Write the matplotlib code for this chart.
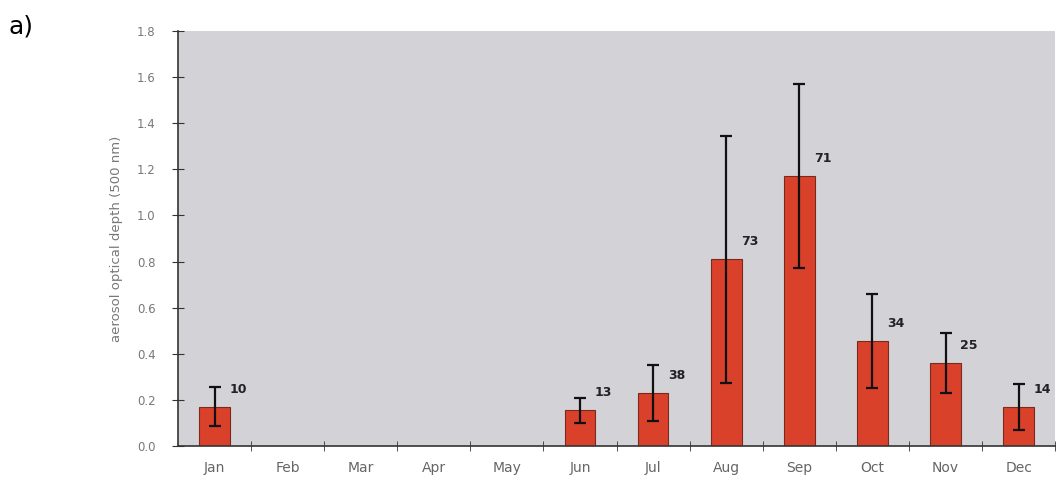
import matplotlib.pyplot as plt
import numpy as np

months = ['Jan', 'Feb', 'Mar', 'Apr', 'May', 'Jun',
          'Jul', 'Aug', 'Sep', 'Oct', 'Nov', 'Dec']
aod_mean = [0.17, np.nan, np.nan, np.nan, np.nan, 0.155,
            0.23, 0.81, 1.17, 0.455, 0.36, 0.17]
aod_std = [0.085, np.nan, np.nan, np.nan, np.nan, 0.055,
           0.12, 0.535, 0.40, 0.205, 0.13, 0.10]
n_obs = [10, None, None, None, None, 13, 38, 73, 71, 34, 25, 14]


def make_plot():
    fig = plt.figure(figsize=(10.62, 4.9), dpi=100)
    ax = fig.add_axes([0.1676, 0.0898, 0.826, 0.847])
    ax.set_facecolor('#d3d3d7')

    x = np.arange(len(months))
    ax.bar(x, aod_mean, width=0.42, color='#d9412b', edgecolor='#7a2a1a',
           linewidth=0.8, zorder=2)
    ax.errorbar(x, aod_mean, yerr=aod_std, fmt='none', ecolor='#111111',
                elinewidth=1.6, capsize=4.5, capthick=1.6, zorder=3)

    for xi, m, n in zip(x, aod_mean, n_obs):
        if n is None:
            continue
        ax.text(xi + 0.2, m + 0.075, str(n), ha='left', va='center',
                fontsize=9, fontweight='bold', color='#222222')

    ax.set_xlim(-0.5, len(months) - 0.5)
    ax.set_ylim(0, 1.8)
    ax.set_yticks(np.arange(0, 1.81, 0.2))
    ax.set_yticklabels(['{:.1f}'.format(v) for v in np.arange(0, 1.81, 0.2)])
    ax.set_xticks(x)
    ax.set_xticklabels(months)
    ax.set_xticks(np.arange(0.5, len(months) - 0.5 + 0.01, 1), minor=True)
    ax.tick_params(axis='x', which='major', length=0, pad=11,
                   labelsize=10, labelcolor='#666666')
    ax.tick_params(axis='x', which='minor', direction='inout', length=7,
                   color='#333333')
    ax.tick_params(axis='y', direction='inout', length=8, color='#333333',
                   labelsize=8.5, labelcolor='#777777', pad=12)

    for s in ['top', 'right']:
        ax.spines[s].set_visible(False)
    for s in ['left', 'bottom']:
        ax.spines[s].set_color('#333333')
        ax.spines[s].set_linewidth(1.2)

    ax.set_ylabel('aerosol optical depth (500 nm)', fontsize=9.5,
                  color='#777777', labelpad=10)

    fig.text(0.008, 0.945, 'a)', fontsize=18, color='black', va='center')

    fig.savefig('out.png', dpi=100)


if __name__ == "__main__":
    make_plot()
